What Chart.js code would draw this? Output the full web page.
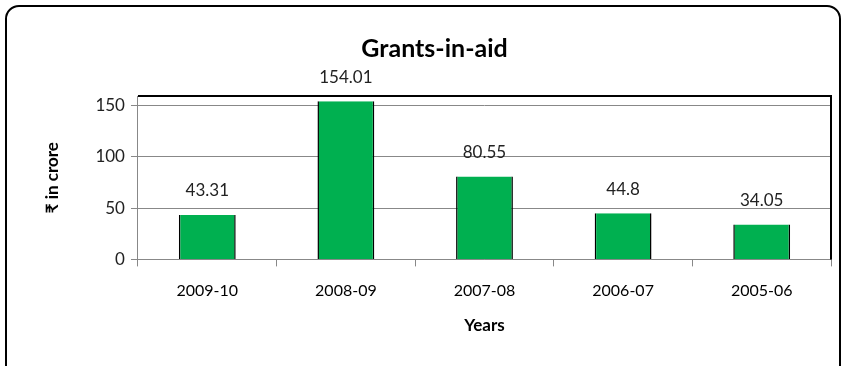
<!DOCTYPE html>
<html>
<head>
<meta charset="utf-8">
<script src="https://cdn.jsdelivr.net/npm/chart.js@4"></script>
<style>
  html, body { margin: 0; padding: 0; background: #fff; overflow: hidden; }
  .frame {
    position: absolute; left: 5px; top: 5px; width: 832px; height: 400px;
    border: 2px solid #000; border-radius: 14px;
  }
  canvas { position: absolute; left: 0; top: 0; }
</style>
</head>
<body>
<div class="frame"></div>
<canvas id="myChart" width="845" height="366"></canvas>
<script>
var years = ['2009-10', '2008-09', '2007-08', '2006-07', '2005-06'];
var grants = [43.31, 154.01, 80.55, 44.8, 34.05];
var grantLabels = ['43.31', '154.01', '80.55', '44.8', '34.05'];

// value labels above the bars
var barLabels = {
  id: 'barLabels',
  afterDatasetsDraw: function(chart) {
    var ctx = chart.ctx;
    var meta = chart.getDatasetMeta(0);
    ctx.save();
    ctx.font = '17px Lato';
    ctx.fillStyle = '#222';
    ctx.textAlign = 'center';
    ctx.textBaseline = 'middle';
    meta.data.forEach(function(bar, i) {
      ctx.fillText(grantLabels[i], bar.x, bar.y - 24);
    });
    ctx.restore();
  }
};

// black top / right edges of plot area
var plotEdge = {
  id: 'plotEdge',
  beforeDatasetsDraw: function(chart) {
    var a = chart.chartArea;
    var ctx = chart.ctx;
    ctx.save();
    ctx.strokeStyle = '#000';
    ctx.lineWidth = 2;
    ctx.beginPath();
    ctx.moveTo(a.left, a.top);
    ctx.lineTo(a.right, a.top);
    ctx.lineTo(a.right, a.bottom);
    ctx.stroke();
    ctx.restore();
  }
};

var chart1 = document.getElementById('myChart').getContext('2d');

new Chart(chart1, {
  type: 'bar',
  data: {
    labels: years,
    datasets: [{
      label: 'Grants-in-aid',
      backgroundColor: '#00B050',
      borderColor: '#000',
      borderWidth: { left: 1.5, right: 1.5, top: 0, bottom: 0 },
      barPercentage: 0.41,
      categoryPercentage: 1,
      data: grants
    }]
  },
  options: {
    responsive: false,
    animation: false,
    layout: { padding: { left: 38, right: 14, top: 14, bottom: 26 } },
    plugins: {
      legend: { display: false },
      tooltip: { enabled: false },
      title: {
        display: true,
        text: 'Grants-in-aid',
        color: '#000',
        font: { family: 'Lato', size: 25, weight: 'bold' },
        padding: { top: 20, bottom: 32 }
      }
    },
    scales: {
      x: {
        grid: { drawOnChartArea: false, offset: true, tickLength: 7, color: '#888' },
        border: { color: '#888' },
        ticks: { color: '#000', font: { family: 'Lato', size: 16 }, padding: 15 },
        title: {
          display: true, text: 'Years', color: '#000',
          font: { family: 'Lato', size: 17, weight: 'bold' }, padding: { top: 0 }
        }
      },
      y: {
        min: 0,
        max: 159,
        afterBuildTicks: function(axis) {
          axis.ticks = [0, 50, 100, 150].map(function(v) { return { value: v }; });
        },
        grid: { color: '#888', tickLength: 7 },
        border: { color: '#888' },
        ticks: { color: '#222', font: { family: 'Lato', size: 17 }, padding: 6 },
        title: {
          display: true, text: '₹ in crore', color: '#000',
          font: { family: 'Lato', size: 17, weight: 'bold' }, padding: { bottom: 27 }
        }
      }
    }
  },
  plugins: [plotEdge, barLabels]
});
</script>
</body>
</html>
